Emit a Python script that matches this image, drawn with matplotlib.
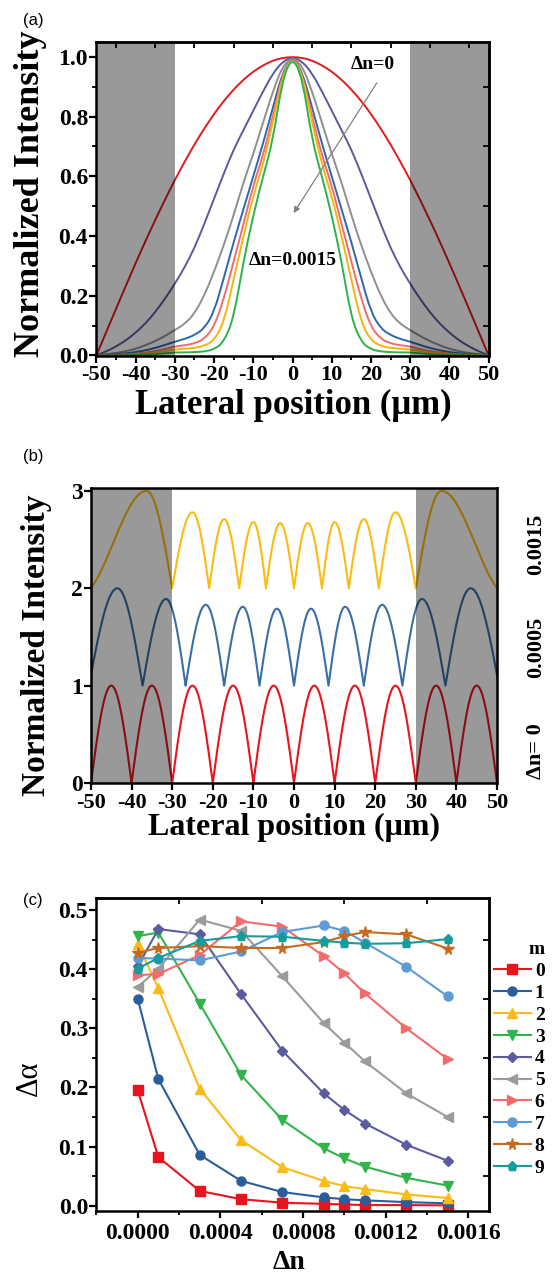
import numpy as np
import matplotlib
matplotlib.use('Agg')
import matplotlib.pyplot as plt
import matplotlib.transforms as mtransforms
from matplotlib.path import Path
from matplotlib.patches import PathPatch
from matplotlib.ticker import MultipleLocator, FormatStrFormatter

plt.rcParams['font.family'] = ['Liberation Serif', 'DejaVu Serif']
plt.rcParams['font.weight'] = 'bold'
plt.rcParams['axes.unicode_minus'] = False

# (a) normalized mode profiles, right half read at x = 0, 2.5, ..., 50 um (symmetric)
pos_half = np.arange(0, 50.1, 2.5)
profile_colors = ['#e41a1c', '#5a5a9e', '#8f8f8f', '#2e67ad', '#f06c6c', '#f5b50f', '#2db34a']
profile_dn0 = [1.0, 0.997, 0.988, 0.972, 0.951, 0.924, 0.891, 0.853, 0.809, 0.760, 0.707,
               0.649, 0.588, 0.522, 0.454, 0.383, 0.309, 0.233, 0.156, 0.078, 0.0]
profile_navy = [1.0, 0.985, 0.945, 0.885, 0.82, 0.755, 0.69, 0.61, 0.525, 0.44, 0.36,
                0.295, 0.24, 0.19, 0.145, 0.107, 0.076, 0.05, 0.03, 0.013, 0.0]
profile_gray = [1.0, 0.97, 0.885, 0.78, 0.675, 0.58, 0.47, 0.37, 0.28, 0.20, 0.14,
                0.105, 0.085, 0.065, 0.048, 0.034, 0.022, 0.014, 0.008, 0.004, 0.0]
profile_blue = [1.0, 0.95, 0.83, 0.71, 0.60, 0.49, 0.38, 0.26, 0.145, 0.09, 0.068,
                0.055, 0.046, 0.035, 0.025, 0.017, 0.011, 0.007, 0.004, 0.002, 0.0]
profile_salmon = [1.0, 0.945, 0.80, 0.67, 0.57, 0.44, 0.315, 0.19, 0.095, 0.055, 0.04,
                  0.034, 0.03, 0.021, 0.014, 0.009, 0.006, 0.004, 0.002, 0.001, 0.0]
profile_yellow = [1.0, 0.94, 0.78, 0.64, 0.535, 0.40, 0.255, 0.11, 0.05, 0.032, 0.025,
                  0.022, 0.02, 0.014, 0.009, 0.006, 0.004, 0.002, 0.001, 0.0005, 0.0]
profile_green = [1.0, 0.93, 0.72, 0.60, 0.47, 0.315, 0.125, 0.045, 0.02, 0.013, 0.011,
                 0.01, 0.01, 0.007, 0.004, 0.002, 0.001, 0.0, 0.0, 0.0, 0.0]
profiles = [profile_dn0, profile_navy, profile_gray, profile_blue,
            profile_salmon, profile_yellow, profile_green]

# (b) lobes of the highest mode: node positions, peak positions and peak heights
red_nodes = [-50, -40, -30, -20, -10, 0, 10, 20, 30, 40, 50]
red_peak_pos = [-45, -35, -25, -15, -5, 5, 15, 25, 35, 45]
red_peak_h = [1.0, 1.0, 1.0, 1.0, 1.0, 1.0, 1.0, 1.0, 1.0, 1.0]
blue_nodes = [-50.5, -37.3, -26.7, -17.2, -8.5, 0, 8.5, 17.2, 26.7, 37.3, 50.5]
blue_peak_pos = [-43.5, -31.5, -21.7, -12.6, -4.2, 4.2, 12.6, 21.7, 31.5, 43.5]
blue_peak_h = [1.0, 0.89, 0.83, 0.81, 0.79, 0.79, 0.81, 0.83, 0.89, 1.0]
yellow_nodes = [-50, -30, -20.9, -13.5, -6.9, 0, 6.9, 13.5, 20.9, 30, 50]
yellow_peak_pos = [-36.3, -25.0, -17.2, -10.0, -3.4, 3.4, 10.0, 17.2, 25.0, 36.3]
yellow_peak_h = [1.0, 0.78, 0.71, 0.68, 0.67, 0.67, 0.68, 0.71, 0.78, 1.0]
side_labels = ['\u0394n= 0', '0.0005', '0.0015']
side_label_y = [0.33, 1.39, 2.45]

# (c) delta alpha vs delta n for modes m = 0..9
dn = [0.0, 0.0001, 0.0003, 0.0005, 0.0007, 0.0009, 0.0010, 0.0011, 0.0013, 0.0015]
da_m0 = [0.195, 0.082, 0.025, 0.011, 0.005, 0.003, 0.002, 0.001, 0.001, 0.0005]
da_m1 = [0.350, 0.214, 0.086, 0.042, 0.023, 0.014, 0.011, 0.009, 0.006, 0.004]
da_m2 = [0.443, 0.368, 0.198, 0.111, 0.065, 0.042, 0.033, 0.028, 0.019, 0.013]
da_m3 = [0.456, 0.462, 0.342, 0.221, 0.145, 0.097, 0.080, 0.066, 0.047, 0.034]
da_m4 = [0.405, 0.468, 0.459, 0.358, 0.262, 0.190, 0.162, 0.139, 0.103, 0.076]
da_m5 = [0.370, 0.401, 0.484, 0.465, 0.388, 0.309, 0.276, 0.244, 0.190, 0.150]
da_m6 = [0.390, 0.392, 0.424, 0.481, 0.472, 0.422, 0.393, 0.359, 0.300, 0.248]
da_m7 = [0.419, 0.418, 0.415, 0.430, 0.463, 0.474, 0.465, 0.445, 0.404, 0.354]
da_m8 = [0.428, 0.436, 0.439, 0.436, 0.436, 0.446, 0.456, 0.463, 0.459, 0.435]
da_m9 = [0.401, 0.419, 0.448, 0.456, 0.455, 0.448, 0.445, 0.443, 0.444, 0.451]
mode_series = [da_m0, da_m1, da_m2, da_m3, da_m4, da_m5, da_m6, da_m7, da_m8, da_m9]
mode_labels = ['0', '1', '2', '3', '4', '5', '6', '7', '8', '9']
mode_colors = ['#e8141c', '#2c5d9b', '#fbbb16', '#31b44b', '#5b5ba0',
               '#9b9b9b', '#f36b6b', '#5e9ad6', '#c86a1e', '#169c9c']
mode_markers = ['s', 'o', '^', 'v', 'D', '<', '>', 'o', '*', 'p']

W, H = 557, 1276
fig = plt.figure(figsize=(W / 100, H / 100), dpi=100)


def px_axes(left, top, right, bottom):
    return fig.add_axes([left / W, 1 - bottom / H, (right - left) / W, (bottom - top) / H])


def style_axes(ax, labelsize, xpad, ypad):
    for s in ax.spines.values():
        s.set_linewidth(1.8)
    ax.tick_params(which='major', direction='out', length=5, width=1.6,
                   labelsize=labelsize)
    ax.tick_params(which='minor', direction='out', length=3, width=1.3)
    ax.tick_params(axis='x', which='major', pad=xpad)
    ax.tick_params(axis='y', which='major', pad=ypad)


def mirror_minor(ax, xminor, yminor):
    top = ax.secondary_xaxis('top')
    top.set_xticks(xminor)
    top.tick_params(direction='in', length=4, width=1.3, labeltop=False)
    right = ax.secondary_yaxis('right')
    right.set_yticks(yminor)
    right.tick_params(direction='in', length=4, width=1.3, labelright=False)
    for sec in (top, right):
        for s in sec.spines.values():
            s.set_linewidth(1.8)


def smooth_line(ax, x, y, color, lw):
    # quadratic Bezier path through the midpoints of the read points
    pts = np.column_stack([x, y])
    verts = [pts[0]]
    codes = [Path.MOVETO]
    for i in range(1, len(pts) - 1):
        verts += [pts[i], (pts[i] + pts[i + 1]) / 2]
        codes += [Path.CURVE3, Path.CURVE3]
    verts[-1] = pts[-1]
    ax.add_patch(PathPatch(Path(verts, codes), facecolor='none', edgecolor=color,
                           lw=lw, zorder=2))


def lobe_curve(nodes, peak_pos, peak_h, soft_ends=False):
    t = np.linspace(0, 1, 40)
    xs, ys = [], []
    n = len(peak_pos)
    for i in range(n):
        x0, xp, x1, h = nodes[i], peak_pos[i], nodes[i + 1], peak_h[i]
        rise = np.sin(np.pi / 2 * t)
        fall = np.sin(np.pi / 2 * t)
        if soft_ends and i == 0:
            rise = 0.5 * (rise + (1 - np.cos(np.pi * t)) / 2)
        if soft_ends and i == n - 1:
            fall = 0.5 * (fall + (1 - np.cos(np.pi * t)) / 2)
        xs += list(x0 + (xp - x0) * t) + list(x1 - (x1 - xp) * t[::-1])
        ys += list(h * rise) + list(h * fall[::-1])
    return np.array(xs), np.array(ys)


# ---------------- panel (a) ----------------
ax_a = px_axes(96.4, 42, 488.6, 356)
x_full = np.concatenate([-pos_half[::-1], pos_half[1:]])
for vals, c in zip(profiles, profile_colors):
    v = np.asarray(vals)
    smooth_line(ax_a, x_full, np.concatenate([v[::-1], v[1:]]), c, 1.4)
for x0, x1 in [(-50, -30), (30, 50)]:
    ax_a.axvspan(x0, x1, color='black', alpha=0.4, lw=0, zorder=2.2)
ax_a.set_xlim(-50, 50)
ax_a.set_ylim(-0.002, 1.05)
ax_a.xaxis.set_major_locator(MultipleLocator(10))
ax_a.xaxis.set_minor_locator(MultipleLocator(5))
ax_a.yaxis.set_major_locator(MultipleLocator(0.2))
ax_a.yaxis.set_minor_locator(MultipleLocator(0.1))
ax_a.yaxis.set_major_formatter(FormatStrFormatter('%.1f'))
style_axes(ax_a, 16, 1.5, 1)
ax_a.tick_params(axis='y', labelsize=17)
mirror_minor(ax_a, np.arange(-45, 50, 10), np.arange(0.1, 1.0, 0.2))
ax_a.annotate('', xy=(0.3, 0.477), xytext=(21.5, 0.913),
              arrowprops=dict(arrowstyle='-|>', color='#808080', lw=0.9,
                              mutation_scale=9, shrinkA=0, shrinkB=0))
ax_a.text(20.5, 0.975, '\u0394n=0', ha='center', va='center', fontsize=14)
ax_a.text(0, 0.318, '\u0394n=0.0015', ha='center', va='center', fontsize=14)

# ---------------- panel (b) ----------------
ax_b = px_axes(91, 488, 497, 783)
for nodes, ppos, ph, c, off, soft in [
        (red_nodes, red_peak_pos, red_peak_h, '#e8141e', 0, False),
        (blue_nodes, blue_peak_pos, blue_peak_h, '#3a6ea5', 1, False),
        (yellow_nodes, yellow_peak_pos, yellow_peak_h, '#fbbc12', 2, True)]:
    xs, ys = lobe_curve(nodes, ppos, ph, soft)
    ax_b.plot(xs, ys + off, color=c, lw=1.5, zorder=2)
for x0, x1 in [(-50, -30), (30, 50)]:
    ax_b.axvspan(x0, x1, color='black', alpha=0.4, lw=0, zorder=2.2)
ax_b.set_xlim(-50, 50)
ax_b.set_ylim(0, 3.03)
ax_b.xaxis.set_major_locator(MultipleLocator(10))
ax_b.yaxis.set_major_locator(MultipleLocator(1))
style_axes(ax_b, 16, 2, 1)
ax_b.tick_params(axis='y', labelsize=17)
trans_b = mtransforms.blended_transform_factory(ax_b.transAxes, ax_b.transData)
for lab, yy in zip(side_labels, side_label_y):
    ax_b.text(1.096, yy, lab, transform=trans_b, rotation=90, ha='center',
              va='center', fontsize=16)

# ---------------- panel (c) ----------------
ax_c = px_axes(96.4, 898.3, 489, 1210.7)
for vals, lab, c, mk in zip(mode_series, mode_labels, mode_colors, mode_markers):
    ms = 8.5 if mk == '*' else (5.5 if mk == 'D' else 6.5)
    ax_c.plot(dn, vals, color=c, marker=mk, ms=ms, lw=1.5, label=lab, zorder=2)
ax_c.set_xlim(-0.0002, 0.0017)
ax_c.set_ylim(-0.0085, 0.52)
ax_c.xaxis.set_major_locator(MultipleLocator(0.0004))
ax_c.xaxis.set_minor_locator(MultipleLocator(0.0002))
ax_c.xaxis.set_major_formatter(FormatStrFormatter('%.4f'))
ax_c.yaxis.set_major_locator(MultipleLocator(0.1))
ax_c.yaxis.set_minor_locator(MultipleLocator(0.05))
ax_c.yaxis.set_major_formatter(FormatStrFormatter('%.1f'))
style_axes(ax_c, 17, 4, 1)
mirror_minor(ax_c, [0.0002, 0.0006, 0.0010, 0.0014], np.arange(0.05, 0.5, 0.1))
ax_c.legend(title='m', loc='upper left', bbox_to_anchor=(494 / W, 1 - 941 / H),
            bbox_transform=fig.transFigure, frameon=False,
            prop={'weight': 'bold', 'size': 14}, title_fontsize=14,
            handlelength=1.9, handletextpad=0.2, labelspacing=0.22,
            borderpad=0, borderaxespad=0, alignment='right')

# axis labels and panel tags
fig.text(31 / W, 1 - 194 / H, 'Normalized Intensity', rotation=90, ha='center',
         va='center', fontsize=26)
fig.text(293 / W, 1 - 414 / H, 'Lateral position (\u03bcm)', ha='center',
         va='baseline', fontsize=25)
fig.text(37 / W, 1 - 645 / H, 'Normalized Intensity', rotation=90, ha='center',
         va='center', fontsize=24)
fig.text(294 / W, 1 - 835 / H, 'Lateral position (\u03bcm)', ha='center',
         va='baseline', fontsize=23)
fig.text(29 / W, 1 - 1078 / H, '\u0394\u03b1', rotation=90, ha='center',
         va='center', fontsize=22, fontweight='normal')
fig.text(289 / W, 1 - 1269 / H, '\u0394n', ha='center', va='baseline', fontsize=20)
for tag, yy in [('(a)', 20), ('(b)', 456), ('(c)', 900)]:
    fig.text(33 / W, 1 - yy / H, tag, ha='center', va='center', fontsize=12,
             family='Liberation Sans', fontweight='normal')

fig.savefig('out.png', dpi=100)
